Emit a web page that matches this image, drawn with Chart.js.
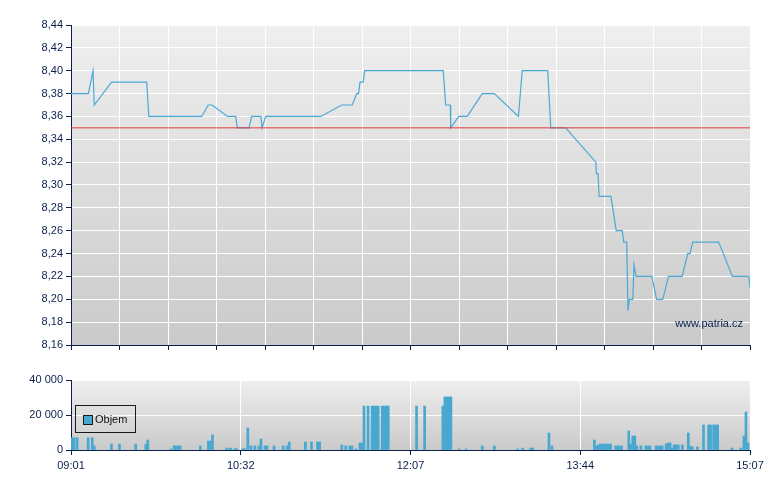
<!DOCTYPE html>
<html><head><meta charset="utf-8">
<script src="https://cdn.jsdelivr.net/npm/chart.js@4.4.1/dist/chart.umd.min.js"></script>
<style>
html,body{margin:0;padding:0;background:#fff;}
#wrap{position:relative;width:780px;height:490px;overflow:hidden;}
#c1{position:absolute;left:0;top:0;}
#c2{position:absolute;left:0;top:360px;}
#legend{position:absolute;left:75px;top:405px;width:61px;height:28px;border:1px solid #1a1a1a;box-sizing:border-box;
  font:11px "Liberation Sans",Arial,sans-serif;color:#111;}
#legend .sw{position:absolute;left:7px;top:9px;width:8px;height:8px;background:#48a8d0;border:1px solid #1a1a1a;}
#legend .tx{position:absolute;left:19px;top:7px;line-height:13px;}
</style>
</head><body>
<div id="wrap">
<canvas id="c1" width="780" height="360"></canvas>
<canvas id="c2" width="780" height="130"></canvas>
<div id="legend"><div class="sw"></div><div class="tx">Objem</div></div>
</div>
<script>
// ---- data ----
const xMin = 0, xMax = 336;
const priceX = [0,8.6,10.9,11.5,20.1,37.5,38.5,64.7,67.9,69.8,77.5,81.5,82.3,88.1,89.4,94.0,94.5,96.4,123.6,134.0,139.2,141.4,142.3,143.0,144.6,145.3,184.2,185.4,187.7,187.9,191.9,196.1,203.5,209.5,221.4,223.3,235.9,237.4,244.8,259.7,260.0,260.8,261.3,267.2,269.8,272.8,273.5,275.0,275.6,276.3,278.0,278.6,279.6,287.4,289.8,292.8,294.3,295.6,302.4,305.2,306.3,307.7,320.5,327.3,335.4,336];
const priceY = [8.38,8.38,8.40,8.37,8.39,8.39,8.36,8.36,8.37,8.37,8.36,8.36,8.35,8.35,8.36,8.36,8.35,8.36,8.36,8.37,8.37,8.38,8.38,8.39,8.39,8.40,8.40,8.37,8.37,8.35,8.36,8.36,8.38,8.38,8.36,8.40,8.40,8.35,8.35,8.32,8.31,8.31,8.29,8.29,8.26,8.26,8.25,8.25,8.19,8.20,8.20,8.23,8.22,8.22,8.20,8.20,8.21,8.22,8.22,8.24,8.24,8.25,8.25,8.22,8.22,8.21];
const refPrice = 8.35;
const priceTicks = [8.16,8.18,8.20,8.22,8.24,8.26,8.28,8.30,8.32,8.34,8.36,8.38,8.40,8.42,8.44];
const gridX = [0,24,48,72,96,120,144,168,192,216,240,264,288,312,336];
const volX = [0.5,1.5,3,8.5,10.5,11.5,20,24,32,37,38,49.5,51,52,53,54,64,68,69,70,77,78,79,81,82,85,86,87.5,89,91,93,94,96,97,100.5,105,107,108,116,119,122,123,134,136,138,139,141,143,144,145,147,149,150,151,152,154,155,156,157,171,175,184,185,186,187,188,192,195.5,203.5,209.5,221,223.5,227.5,228.5,236.5,238,259,260,261,262,263,264,265,266,267,269.5,270.5,271.5,272.5,276,277,278,279,280,282,284.5,285.5,286.5,289.5,290.5,291.5,292.5,294.5,295.5,296.5,297.5,298.5,299.5,300.5,302.5,305.5,306.5,307.5,310,313,315.5,316.5,318,319,320,327,331.5,333,334,335];
const volY = [7000,7000,7000,7000,7000,2300,3400,3400,3400,3300,5700,600,2300,2300,2300,2300,2300,5100,5100,8600,1100,600,1100,700,700,700,700,12600,2300,2300,2300,6300,2300,2300,2300,2300,2300,4600,4600,4600,4600,4600,2900,2300,2300,2300,600,4000,4000,25100,25100,25100,25100,25100,25100,25100,25100,25100,25100,25100,25100,25100,30300,30300,30300,30300,600,600,2300,2300,600,1100,1100,1100,9700,2300,5700,2300,2900,3400,3400,3400,3400,3400,3400,2300,2300,2300,2300,10900,3400,8000,8000,2300,2300,2300,2300,2300,2300,2300,2300,2300,3400,4000,4000,1100,2900,2900,2900,2900,9700,2300,1700,1700,14300,14300,14300,14300,14300,14300,1100,1100,8000,21700,4000];
const volTicks = [0,20000,40000];
const timeTickPos = [0,84,168,252,336];
const timeLabels = ['09:01','10:32','12:07','13:44','15:07'];
const watermark = 'www.patria.cz';
const legendLabel = 'Objem';

// ---- style ----
const FONT = '"Liberation Sans", Arial, sans-serif';
const NAVY = '#0b1f4d';
const LINE_BLUE = '#4ba9d5';
const BAR_BLUE = '#48a8d0';
const RED = '#e23b3b';

const bgPlugin = {
  id:'bg',
  beforeDraw(chart){
    const {ctx, chartArea:a} = chart;
    const g = ctx.createLinearGradient(0, a.top, 0, a.bottom);
    g.addColorStop(0, '#efefef');
    g.addColorStop(1, '#cacaca');
    ctx.save(); ctx.fillStyle = g;
    ctx.fillRect(a.left, a.top, a.right - a.left, a.bottom - a.top);
    ctx.restore();
  }
};
const wmPlugin = {
  id:'wm',
  afterDatasetsDraw(chart){
    const {ctx, chartArea:a} = chart;
    ctx.save();
    ctx.font = '11px ' + FONT;
    ctx.fillStyle = NAVY;
    ctx.textAlign = 'right';
    ctx.textBaseline = 'alphabetic';
    ctx.fillText(watermark, a.right - 7, a.bottom - 18);
    ctx.restore();
  }
};

new Chart(document.getElementById('c1'), {
  type:'line',
  data:{datasets:[
    {data:[{x:xMin,y:refPrice},{x:xMax,y:refPrice}], borderColor:RED, borderWidth:1, pointRadius:0},
    {data:priceX.map((x,i)=>({x, y:priceY[i]})), borderColor:LINE_BLUE, borderWidth:1.2, pointRadius:0, tension:0}
  ]},
  options:{
    responsive:false, animation:false, events:[],
    layout:{padding:{top:25,right:30,left:0,bottom:0}},
    plugins:{legend:{display:false}, tooltip:{enabled:false}},
    scales:{
      x:{type:'linear', min:xMin, max:xMax,
         afterBuildTicks:s=>{s.ticks = gridX.map(v=>({value:v}));},
         ticks:{display:false, autoSkip:false},
         grid:{color:'#ffffff', tickColor:NAVY, tickLength:5, lineWidth:1, offset:false},
         border:{color:NAVY, width:1},
         afterFit:s=>{s.height = 15;}},
      y:{type:'linear', min:8.16, max:8.44,
         afterBuildTicks:s=>{s.ticks = priceTicks.map(v=>({value:v}));},
         ticks:{autoSkip:false, padding:3, color:NAVY, font:{family:FONT,size:11},
                callback:v=>v.toFixed(2).replace('.',',')},
         grid:{color:'#ffffff', tickColor:NAVY, tickLength:5},
         border:{color:NAVY, width:1},
         afterFit:s=>{s.width = 71;}}
    }
  },
  plugins:[bgPlugin, wmPlugin]
});

new Chart(document.getElementById('c2'), {
  type:'bar',
  data:{datasets:[{label:legendLabel, data:volX.map((x,i)=>({x, y:volY[i]})), backgroundColor:BAR_BLUE, borderWidth:0, barThickness:2.02}]},
  options:{
    responsive:false, animation:false, events:[],
    layout:{padding:{top:20,right:30,left:0,bottom:0}},
    plugins:{legend:{display:false}, tooltip:{enabled:false}},
    scales:{
      x:{type:'linear', min:xMin, max:xMax, offset:false,
         afterBuildTicks:s=>{s.ticks = timeTickPos.map(v=>({value:v}));},
         ticks:{autoSkip:false, maxRotation:0, padding:4, color:NAVY, font:{family:FONT,size:11},
                callback:v=>timeLabels[timeTickPos.indexOf(v)]},
         grid:{color:'#ffffff', tickColor:NAVY, tickLength:5, offset:false},
         border:{color:NAVY, width:1},
         afterFit:s=>{s.height = 40;}},
      y:{type:'linear', min:0, max:40000,
         afterBuildTicks:s=>{s.ticks = volTicks.map(v=>({value:v}));},
         ticks:{autoSkip:false, padding:3, color:NAVY, font:{family:FONT,size:11},
                callback:v=>String(v).replace(/\B(?=(\d{3})+(?!\d))/g,' ')},
         grid:{color:'#ffffff', tickColor:NAVY, tickLength:5},
         border:{color:NAVY, width:1},
         afterFit:s=>{s.width = 71;}}
    }
  },
  plugins:[bgPlugin]
});
</script>
</body></html>
